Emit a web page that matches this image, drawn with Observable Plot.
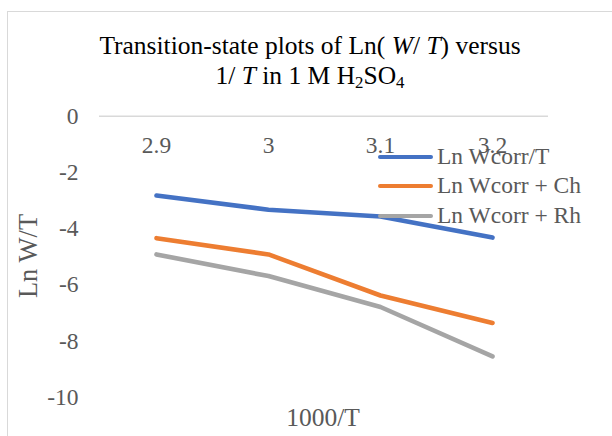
<!DOCTYPE html>
<html>
<head>
<meta charset="utf-8">
<script src="https://cdn.jsdelivr.net/npm/d3@7"></script>
<script src="https://cdn.jsdelivr.net/npm/@observablehq/plot@0.6"></script>
<style>
  html, body { margin: 0; padding: 0; background: #fff; }
  #wrap { position: relative; width: 612px; height: 436px; overflow: hidden; background: #fff; font-family: "Liberation Serif", "Times New Roman", serif; }
  #border { position: absolute; left: 7px; top: 10.5px; width: 800px; height: 800px; border: 1.5px solid #d9d9d9; box-sizing: border-box; }
  #title { position: absolute; left: 4px; top: 31.4px; width: 612px; text-align: center; font-size: 25.5px; line-height: 30px; color: #000; }
  #title sub { font-size: 0.66em; vertical-align: -0.25em; line-height: 0; }
  #chart { position: absolute; left: 0; top: 100px; }
  .axtitle { position: absolute; white-space: nowrap; line-height: 1; color: #595959; }
  #legend { position: absolute; left: 0; top: 0; z-index: 5; }
  .lg { position: absolute; height: 30px; display: flex; align-items: center; white-space: nowrap; }
  .lg .sw { width: 55px; height: 4.6px; border-radius: 2.3px; margin-right: 4px; }
  .lg .tx { font-size: 23.5px; color: #595959; line-height: 1; }
</style>
</head>
<body>
<div id="wrap">
  <div id="border"></div>
  <div id="title">Transition-state plots of Ln( <i>W</i>/ <i>T</i>) versus<br>1/ <i>T</i> in 1 M H<sub>2</sub>SO<sub>4</sub></div>
  <div id="chart"></div>
  <div class="axtitle" id="ylab" style="left:27.5px;top:256px;font-size:26.5px;transform:translate(-50%,-50%) rotate(-90deg);">Ln W/T</div>
  <div class="axtitle" id="xlab" style="left:323px;top:417.5px;font-size:25.5px;transform:translate(-50%,-50%);">1000/T</div>
  <div id="legend"></div>
</div>
<script>
const categories = ["2.9", "3", "3.1", "3.2"];
const seriesNames = ["Ln Wcorr/T", "Ln Wcorr + Ch", "Ln Wcorr + Rh"];
const lnWcorrT = [-2.82, -3.33, -3.57, -4.32];
const lnWcorrCh = [-4.34, -4.92, -6.38, -7.36];
const lnWcorrRh = [-4.92, -5.69, -6.79, -8.55];
const seriesColors = ["#4472C4", "#ED7D31", "#A5A5A5"];
const yTicks = [0, -2, -4, -6, -8, -10];

const seriesValues = [lnWcorrT, lnWcorrCh, lnWcorrRh];
const rows = [];
seriesNames.forEach((name, i) => {
  categories.forEach((c, j) => rows.push({series: name, cat: c, value: seriesValues[i][j]}));
});

const plot = Plot.plot({
  width: 612,
  height: 336,
  marginLeft: 99,
  marginRight: 64,
  marginTop: 15.7,
  marginBottom: 39.3,
  style: {background: "transparent", fontFamily: "'Liberation Serif', 'Times New Roman', serif", overflow: "visible"},
  x: {type: "point", domain: categories, padding: 0.5, axis: null},
  y: {domain: [-10, 0], axis: null},
  color: {domain: seriesNames, range: seriesColors},
  marks: [
    Plot.ruleY([0], {stroke: "#d9d9d9", strokeWidth: 1.5}),
    Plot.axisY({ticks: yTicks, tickSize: 0, tickPadding: 21, tickFormat: d => String(d), fontSize: 23.5, fill: "#595959", label: null}),
    Plot.text(categories, {x: d => d, y: () => 0, dy: 29.3, text: d => d, fontSize: 23.5, fill: "#595959"}),
    Plot.line(rows, {x: "cat", y: "value", z: "series", stroke: "series", strokeWidth: 4.6, strokeLinecap: "round", strokeLinejoin: "round"})
  ]
});
document.getElementById("chart").appendChild(plot);

// Legend (overlays the plot, as in the original)
const legend = document.getElementById("legend");
const legendTops = [142, 171, 201];
seriesNames.forEach((name, i) => {
  const row = document.createElement("div");
  row.className = "lg";
  row.style.left = "378px";
  row.style.top = legendTops[i] + "px";
  const sw = document.createElement("div");
  sw.className = "sw";
  sw.style.background = seriesColors[i];
  const tx = document.createElement("div");
  tx.className = "tx";
  tx.textContent = name;
  row.appendChild(sw);
  row.appendChild(tx);
  legend.appendChild(row);
});
</script>
</body>
</html>
